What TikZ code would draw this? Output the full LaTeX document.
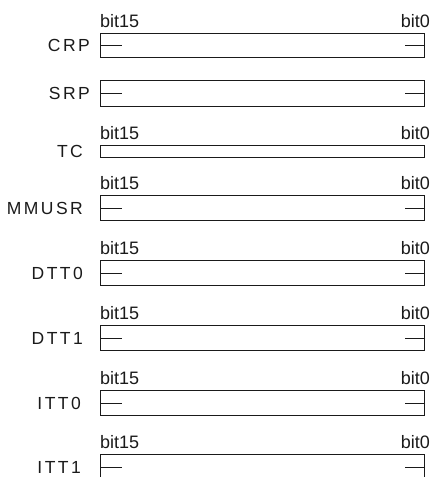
\documentclass[tikz,border=0pt]{standalone}
\usepackage{fontspec}
\setmainfont{Liberation Sans}
\newfontfamily\regfont[LetterSpace=14]{Liberation Sans}
\definecolor{rgink}{HTML}{1A1A1A}

\begin{document}
\begin{tikzpicture}[
  x=1pt, y=-1pt,
  font=\fontsize{18}{21}\selectfont,
  regbox/.style={draw=rgink, line width=1.1pt, minimum width=324pt,
    inner sep=0pt, anchor=north west},
  regname/.style={font=\regfont\fontsize{17.5}{20}\selectfont, text=rgink,
    anchor=east, inner sep=0pt},
  bitlabel/.style={text=rgink, inner sep=0pt},
  regtick/.style={draw=rgink, line width=1.1pt},
]
\useasboundingbox (0,0) rectangle (429,477);
\clip (0,0) rectangle (429,477);

% id / name / top / height / name gap / ticks / bit labels
\foreach \id/\name/\yy/\hh/\gap/\ticks/\bits in {
    crp/CRP/33/24/10/1/1,
    srp/SRP/80/26/10/1/0,
    tc/TC/145/12/17/0/1,
    mmusr/MMUSR/195/25/17/1/1,
    dtt0/DTT0/260/25/17/1/1,
    dtt1/DTT1/325/25/17/1/1,
    itt0/ITT0/390/25/19/1/1,
    itt1/ITT1/454/25/19/1/1} {
  \node[regbox, minimum height=\hh pt] (\id) at (100,\yy) {};
  \node[regname] (\id-name) at ([xshift=-\gap pt]\id.west) {\name};
  \ifnum\ticks=1
    \draw[regtick] (\id.west) -- ++(22,0);
    \draw[regtick] (\id.east) -- ++(-20,0);
  \fi
  \ifnum\bits=1
    \node[bitlabel, anchor=base west] (\id-hi)
      at ([yshift=6pt]\id.north west) {bit15};
    \node[bitlabel, anchor=base east] (\id-lo)
      at ([xshift=5pt, yshift=6pt]\id.north east) {bit0};
  \fi
}

\end{tikzpicture}
\end{document}
